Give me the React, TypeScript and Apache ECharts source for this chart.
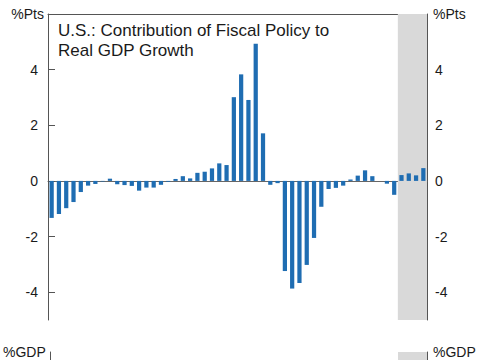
import React, { useEffect, useRef } from "react";
import * as echarts from "echarts";

const quarters: string[] = [
  "2014Q1", "2014Q2", "2014Q3", "2014Q4", "2015Q1", "2015Q2", "2015Q3", "2015Q4",
  "2016Q1", "2016Q2", "2016Q3", "2016Q4", "2017Q1", "2017Q2", "2017Q3", "2017Q4",
  "2018Q1", "2018Q2", "2018Q3", "2018Q4", "2019Q1", "2019Q2", "2019Q3", "2019Q4",
  "2020Q1", "2020Q2", "2020Q3", "2020Q4", "2021Q1", "2021Q2", "2021Q3", "2021Q4",
  "2022Q1", "2022Q2", "2022Q3", "2022Q4", "2023Q1", "2023Q2", "2023Q3", "2023Q4",
  "2024Q1", "2024Q2", "2024Q3", "2024Q4", "2025Q1", "2025Q2", "2025Q3", "2025Q4",
  "2026Q1", "2026Q2", "2026Q3", "2026Q4",
];

const fiscalContribution: number[] = [
  -1.33, -1.19, -0.98, -0.76, -0.4, -0.17, -0.11, -0.02,
  0.08, -0.12, -0.15, -0.18, -0.35, -0.24, -0.24, -0.14,
  -0.03, 0.07, 0.17, 0.09, 0.29, 0.33, 0.45, 0.63,
  0.57, 3.01, 3.83, 2.91, 4.93, 1.71, -0.14, -0.08,
  -3.24, -3.87, -3.67, -3.02, -2.05, -0.93, -0.29, -0.25,
  -0.17, 0.05, 0.19, 0.38, 0.17, 0.0, -0.1, -0.5,
  0.21, 0.27, 0.2, 0.46,
];

const projectionStart = "2026Q1";
const pctTicks: number[] = [-4, -2, 0, 2, 4];
const titleLines: string[] = ["U.S.: Contribution of Fiscal Policy to", "Real GDP Growth"];

const FONT = "'Liberation Sans', Arial, sans-serif";
const AXIS = "#555555";
const TEXT = "#1a1a1a";
const SHADE = "#d9d9d9";
const BLUE = "#1f6db2";

export default function App() {
  const ref = useRef<HTMLDivElement>(null);

  useEffect(() => {
    if (!ref.current) return;
    const chart = echarts.init(ref.current, undefined, { renderer: "svg" });
    const n = quarters.length;
    const projIdx = quarters.indexOf(projectionStart);

    const yCommon = (position: "left" | "right", name: string, gridIndex: number, min: number, max: number, labels: number[]) => ({
      type: "value",
      gridIndex,
      position,
      min,
      max,
      name,
      nameLocation: "end",
      nameGap: 0,
      nameTextStyle: {
        fontFamily: FONT,
        fontSize: 14,
        color: TEXT,
        align: position === "left" ? "right" : "left",
        verticalAlign: "middle",
        padding: position === "left" ? [0, 4, 0, 0] : [0, 0, 0, 6],
      },
      axisLine: { show: true, onZero: false, lineStyle: { color: AXIS, width: 1 } },
      axisTick: { show: labels.length > 0, inside: true, length: 7, customValues: labels, lineStyle: { color: AXIS } },
      axisLabel: {
        show: labels.length > 0,
        customValues: labels,
        margin: position === "left" ? 10 : 8,
        fontFamily: FONT,
        fontSize: 14,
        color: TEXT,
      },
      splitLine: { show: false },
    });

    chart.setOption({
      animation: false,
      backgroundColor: "#ffffff",
      title: {
        text: titleLines.join("\n"),
        left: 58,
        top: 20,
        padding: 0,
        textStyle: { fontFamily: FONT, fontSize: 17, fontWeight: "normal", color: TEXT, lineHeight: 20 },
      },
      grid: [
        { left: 48, right: 58, top: 14, bottom: 40 },
        { left: 48, right: 58, top: 352, height: 100 },
      ],
      xAxis: [
        {
          type: "category",
          gridIndex: 0,
          data: quarters,
          axisLine: { show: true, onZero: true, lineStyle: { color: "#666666", width: 1 } },
          axisTick: { show: false },
          axisLabel: { show: false },
        },
        {
          type: "value",
          gridIndex: 0,
          position: "top",
          min: 0,
          max: n,
          axisLine: { show: true, onZero: false, lineStyle: { color: AXIS, width: 1 } },
          axisTick: { show: false },
          axisLabel: { show: false },
          splitLine: { show: false },
        },
        {
          type: "value",
          gridIndex: 1,
          min: 0,
          max: n,
          show: false,
        },
      ],
      yAxis: [
        yCommon("left", "%Pts", 0, -5, 6, pctTicks),
        yCommon("right", "%Pts", 0, -5, 6, pctTicks),
        yCommon("left", "%GDP", 1, 0, 10, []),
        yCommon("right", "%GDP", 1, 0, 10, []),
      ],
      series: [
        {
          type: "line",
          xAxisIndex: 1,
          yAxisIndex: 0,
          data: [],
          z: 1,
          silent: true,
          markArea: {
            silent: true,
            itemStyle: { color: SHADE },
            data: [[{ xAxis: projIdx }, { xAxis: n }]],
          },
        },
        {
          type: "line",
          xAxisIndex: 2,
          yAxisIndex: 2,
          data: [],
          z: 1,
          silent: true,
          markArea: {
            silent: true,
            itemStyle: { color: SHADE },
            data: [[{ xAxis: projIdx }, { xAxis: n }]],
          },
        },
        {
          type: "bar",
          xAxisIndex: 0,
          yAxisIndex: 0,
          data: fiscalContribution,
          barWidth: "58%",
          itemStyle: { color: BLUE },
          z: 2,
        },
      ],
    });

    return () => chart.dispose();
  }, []);

  return <div ref={ref} style={{ position: "fixed", left: 0, top: 0, width: 485, height: 360 }} />;
}
